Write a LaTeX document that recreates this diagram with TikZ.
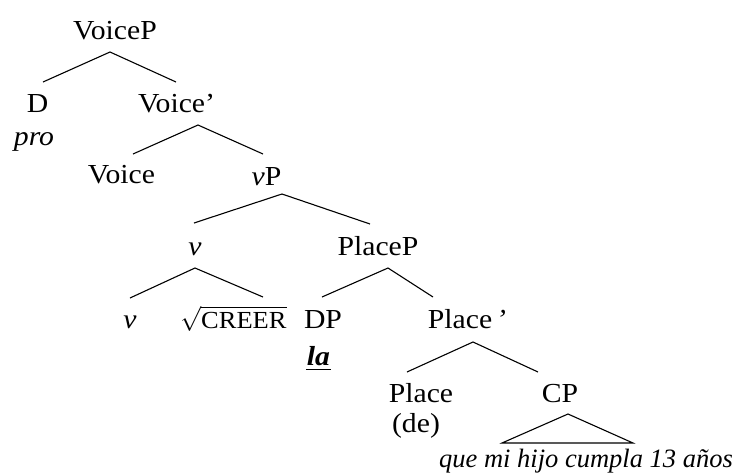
\documentclass[tikz,border=0pt]{standalone}
\usepackage{fontspec}
\setmainfont{Liberation Serif}[FakeStretch=1.08]
\newfontfamily\plainserif{Liberation Serif}
\usetikzlibrary{calc}
\begin{document}
\begin{tikzpicture}[x=1pt,y=-1pt,
  lbl/.style={anchor=base,inner sep=0pt,font=\fontsize{27.5}{32}\selectfont},
  br/.style={line width=1.1pt}]
\path[use as bounding box] (0,0) rectangle (740,475);
% nodes
\node[lbl] (VoiceP) at (115,39) {VoiceP};
\node[lbl] (D) at (37.5,112) {D};
\node[lbl] (pro) at (34,145) {\textit{pro}};
\node[lbl] (Vbar) at (176.5,112) {Voice’};
\node[lbl] (Voice) at (121.5,183) {Voice};
\node[lbl] (vP) at (266.5,185) {\textit{v}P};
\node[lbl] (vmid) at (195,255) {\textit{v}};
\node[lbl] (PlaceP) at (378,255) {PlaceP};
\node[lbl] (vlow) at (130,328) {\textit{v}};
\node[lbl,font=\fontsize{24.5}{28}\selectfont] (root) at (233.5,328) {$\sqrt{\mbox{CREER}}$};
\node[lbl] (DP) at (323,328) {DP};
\node[lbl] (la) at (318.5,365) {\textbf{\textit{la}}};
\node[lbl] (Placebar) at (467,328) {Place\hspace{4pt}\textit{’}};
\node[lbl] (Place) at (421,402) {Place};
\node[lbl] (de) at (416,432) {(de)};
\node[lbl] (CP) at (560,402) {CP};
\node[lbl,font=\fontsize{26.5}{32}\selectfont\plainserif] (que) at (586,467) {\textit{que mi hijo cumpla 13 años}};
% underline of la
\draw[line width=1.4pt] ($(la.base west)+(-1,4.5)$) -- ($(la.base east)+(1,4.5)$);
% branches
\draw[br] ($(D.base)+(5.5,-30)$) -- ($(VoiceP.base)+(-5,13)$) -- ($(Vbar.base)+(-0.5,-30)$);
\draw[br] ($(Voice.base)+(11.5,-29)$) -- ($(Vbar.base)+(21.5,13)$) -- ($(vP.base)+(-3.5,-31)$);
\draw[br] ($(vmid.base)+(-1,-32)$) -- ($(vP.base)+(15.5,9)$) -- ($(PlaceP.base)+(-8,-31)$);
\draw[br] ($(vlow.base)+(0,-30)$) -- ($(vmid.base)+(0,13)$) -- ($(root.base)+(29.5,-31)$);
\draw[br] ($(DP.base)+(-1,-31)$) -- ($(PlaceP.base)+(10,13)$) -- ($(Placebar.base)+(-34,-31)$);
\draw[br] ($(Place.base)+(-14,-30)$) -- ($(Placebar.base)+(6,14)$) -- ($(CP.base)+(-22,-30)$);
\draw[br] ($(que.base)+(-84,-24)$) -- ($(CP.base)+(8,12)$) -- ($(que.base)+(47,-24)$) -- cycle;
\end{tikzpicture}
\end{document}
